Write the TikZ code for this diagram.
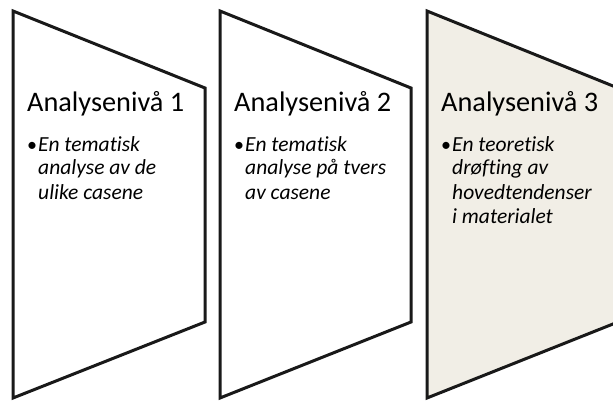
\documentclass[tikz,border=0pt]{standalone}
\usepackage{fontspec}
\setmainfont{Carlito}[Ligatures=NoCommon]
\definecolor{beige}{HTML}{F1EEE6}
\newcommand{\bodytext}[1]{\parbox[t]{170pt}{\raggedright\fontsize{21.5}{24}\selectfont\itshape #1}}
\begin{document}
\begin{tikzpicture}[x=1pt,y=-1pt,
  panel/.style={draw=black!90, line width=3pt, line join=miter},
  head/.style={anchor=base west, inner sep=0pt, font=\fontsize{28.3}{30}\selectfont},
  body/.style={anchor=base west, inner sep=0pt},
  bul/.style={anchor=base west, inner sep=0pt, font=\fontsize{20}{24}\selectfont}]
\useasboundingbox (0,0) rectangle (613,401);
\begin{scope}
\clip (0,0) rectangle (613,401);
\draw[panel, fill=white] (13,11) -- (205,88) -- (205,322) -- (13,398) -- cycle;
\draw[panel, fill=white] (220,11) -- (411,88) -- (411,322) -- (220,398) -- cycle;
\draw[panel, fill=beige] (427,11) -- (618,88) -- (618,322) -- (427,398) -- cycle;
\end{scope}
\node[head] (h1) at (27,112) {Analysenivå 1};
\node[head] (h2) at (234,112) {Analysenivå 2};
\node[head] (h3) at (441,112) {Analysenivå 3};
\node[bul] (b1) at (27,151) {•};
\node[bul] (b2) at (234,151) {•};
\node[bul] (b3) at (441,151) {•};
\node[body] (t1) at (38,151) {\bodytext{En tematisk\\analyse av de\\ulike casene}};
\node[body] (t2) at (245,151) {\bodytext{En tematisk\\analyse på tvers\\av casene}};
\node[body] (t3) at (452,151) {\bodytext{En teoretisk\\drøfting av\\hovedtendenser\\i materialet}};
\end{tikzpicture}
\end{document}
